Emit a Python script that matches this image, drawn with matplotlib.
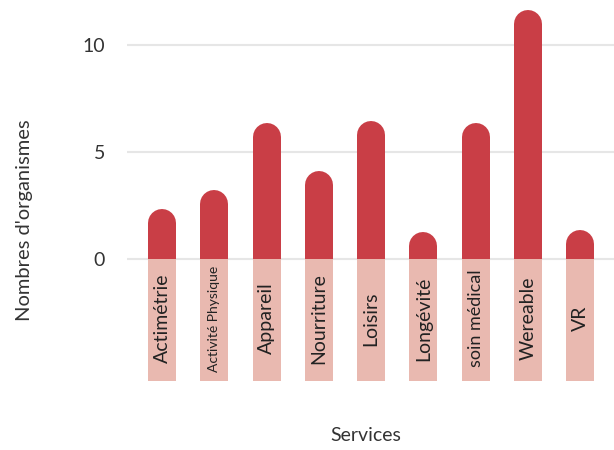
import matplotlib.pyplot as plt
import numpy as np

services = ['Actimétrie', 'Activité Physique', 'Appareil', 'Nourriture', 'Loisirs',
            'Longévité', 'soin médical', 'Wereable', 'VR']
organismes = [2.3, 3.2, 6.35, 4.1, 6.45, 1.25, 6.35, 11.6, 1.35]
label_sizes = [14, 10, 14, 14, 14, 14, 13, 14, 14]

red = '#c93e46'
pink = '#e9b9b0'

plt.rcParams['font.family'] = ['Lato', 'DejaVu Sans']

fig = plt.figure(figsize=(6.14, 4.5), dpi=100)
ax = fig.add_axes([0.207, 0.14, 0.793, 0.856])

x = np.arange(len(services))
width = 0.536
# cap radius: half the bar width in data units (21.4 px per unit)
r = 14 / 21.4

for xi, v in zip(x, organismes):
    ax.plot([xi, xi], [0, v - r], color=red, lw=28 * 0.72,
            solid_capstyle='round', zorder=2)

# label boxes under the baseline
ax.bar(x, -5.7, width=width, color=pink, zorder=3)
for xi, name, fs in zip(x, services, label_sizes):
    ax.text(xi, -2.8, name, rotation=90, ha='center', va='center',
            fontsize=fs, color='#222222', zorder=4)

ax.set_ylim(-6, 12)
ax.set_xlim(-0.67, 8.65)
ax.set_yticks([0, 5, 10])
ax.set_xticks([])
ax.yaxis.grid(True, color='#e6e6e6', linewidth=1.5, zorder=0)
ax.set_axisbelow(True)
for s in ax.spines.values():
    s.set_visible(False)
ax.tick_params(axis='y', length=0, pad=16, labelsize=14, labelcolor='#333333')

fig.text(0.04, 0.51, "Nombres d'organismes", rotation=90, ha='center', va='center',
         fontsize=14.5, color='#333333')
fig.text(0.595, 0.033, 'Services', ha='center', va='center', fontsize=14,
         color='#333333')

plt.savefig('out.png', dpi=100)
